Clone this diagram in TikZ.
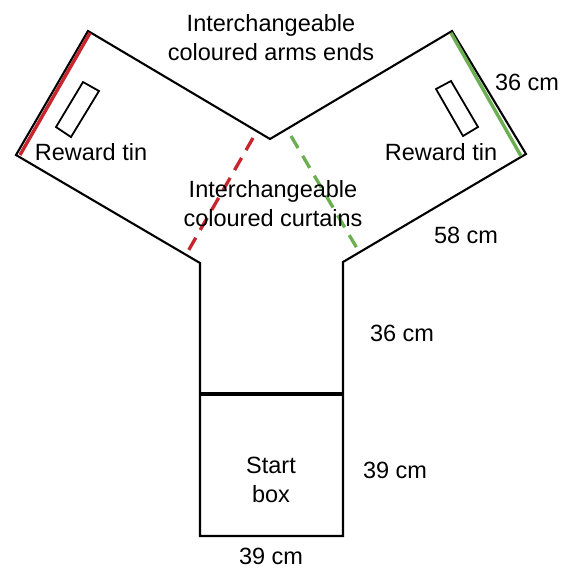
\documentclass[tikz,border=0pt]{standalone}
\usepackage{fontspec}
\setmainfont{Liberation Sans}
\usepackage{tikz}
\definecolor{armred}{HTML}{C8262E}
\definecolor{armgreen}{HTML}{6BAF52}
\tikzstyle{wall}=[line width=2.1pt, black, line join=miter]
\tikzstyle{door}=[line width=3.2pt, black]
\tikzstyle{tin}=[line width=1.8pt, draw=black]
\tikzstyle{armend}=[line width=3.4pt]
\tikzstyle{curtain}=[line width=3.3pt, dash pattern=on 14pt off 9pt]
\tikzstyle{label}=[inner sep=0pt, align=center, font=\fontsize{23.5}{29}\selectfont]
\begin{document}
\begin{tikzpicture}[x=1pt,y=-1pt]
	\useasboundingbox (0,0) rectangle (568,568);

	\coordinate (armLtop) at (88,31);
	\coordinate (armLend) at (16,155);
	\coordinate (armLin) at (200,263);
	\coordinate (fork) at (270,139);
	\coordinate (armRtop) at (452,31);
	\coordinate (armRend) at (526,154);
	\coordinate (armRin) at (343,262);
	\coordinate (boxTL) at (200,394);
	\coordinate (boxTR) at (343,394);
	\coordinate (boxBL) at (200,536);
	\coordinate (boxBR) at (343,536);

	\draw[wall] (fork) -- (armLtop) -- (armLend) -- (armLin) -- (boxBL) -- (boxBR) -- (armRin) -- (armRend) -- (armRtop) -- cycle;
	\draw[door] (boxTL) -- (boxTR);

	\draw[armend, armred] (90,33) -- (20,155);
	\draw[armend, armgreen] (451,33) -- (521,156);
	\draw[curtain, armred] (253,138) -- (187,253);
	\draw[curtain, armgreen] (291,136) -- (358,250);

	\draw[tin] (83,82) -- (99,91) -- (71,137) -- (56,127) -- cycle;
	\draw[tin] (436,89) -- (451,81) -- (478,127) -- (463,136) -- cycle;

	\node (armsends) [label] at (271,38) {Interchangeable\\coloured arms ends};
	\node (curtains) [label] at (273,204) {Interchangeable\\coloured curtains};
	\node (tinL) [label] at (91,152) {Reward tin};
	\node (tinR) [label] at (441,152) {Reward tin};
	\node (startbox) [label] at (271,480) {Start\\box};
	\node (armwidth) [label] at (527,82) {36 cm};
	\node (armlength) [label] at (466,235) {58 cm};
	\node (stemlength) [label] at (402,333) {36 cm};
	\node (boxheight) [label] at (395,470) {39 cm};
	\node (boxwidth) [label] at (271,556) {39 cm};
\end{tikzpicture}
\end{document}
